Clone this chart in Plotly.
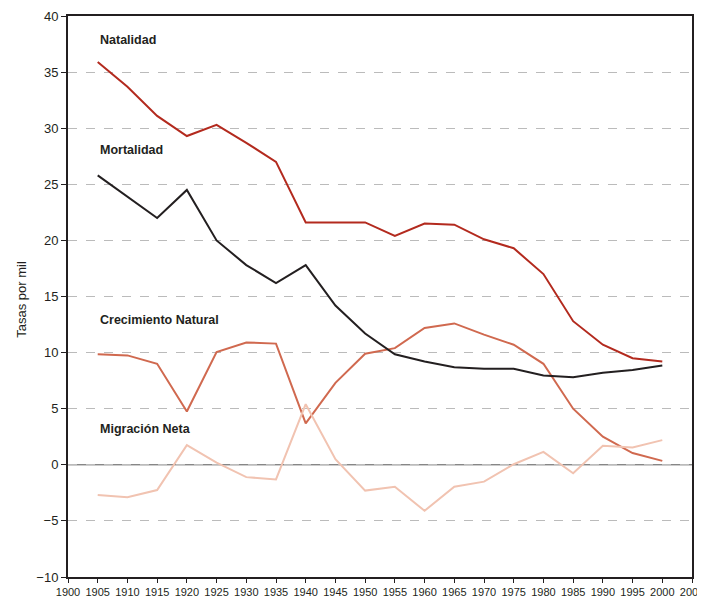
import plotly.graph_objects as go

years = [1905, 1910, 1915, 1920, 1925, 1930, 1935, 1940, 1945, 1950,
         1955, 1960, 1965, 1970, 1975, 1980, 1985, 1990, 1995, 2000]

natalidad = [35.9, 33.7, 31.1, 29.3, 30.3, 28.7, 27.0, 21.6, 21.6, 21.6,
             20.4, 21.5, 21.4, 20.1, 19.3, 17.0, 12.8, 10.7, 9.5, 9.2]
mortalidad = [25.8, 23.9, 22.0, 24.5, 20.0, 17.8, 16.2, 17.8, 14.2, 11.7,
              9.85, 9.2, 8.7, 8.55, 8.55, 7.95, 7.8, 8.2, 8.45, 8.85]
crecimiento = [9.85, 9.75, 9.0, 4.75, 10.05, 10.9, 10.8, 3.7, 7.3, 9.9,
               10.4, 12.2, 12.6, 11.6, 10.7, 9.0, 5.0, 2.5, 1.05, 0.35]
migracion = [-2.7, -2.9, -2.25, 1.75, 0.2, -1.1, -1.3, 5.4, 0.5, -2.3,
             -1.95, -4.1, -1.95, -1.5, 0.05, 1.15, -0.75, 1.7, 1.55, 2.2]

x_ticks = list(range(1900, 2006, 5))
y_ticks = list(range(-10, 41, 5))

series = [
    ("Crecimiento Natural", crecimiento, "#D0694F"),
    ("Migración Neta", migracion, "#F1C3B1"),
    ("Mortalidad", mortalidad, "#231F20"),
    ("Natalidad", natalidad, "#B32A1E"),
]

labels = [("Natalidad", 37.9), ("Mortalidad", 28.1),
          ("Crecimiento Natural", 12.9), ("Migración Neta", 3.2)]

fig = go.Figure()

# zero reference line
fig.add_shape(type="line", xref="paper", x0=0, x1=1, y0=0, y1=0,
              line=dict(color="#555555", width=1), layer="below")

for name, vals, color in series:
    fig.add_trace(go.Scatter(
        x=years, y=vals, mode="lines", name=name,
        line=dict(color=color, width=2),
    ))

for text, yv in labels:
    fig.add_annotation(
        x=1905, y=yv, text=f"<b>{text}</b>", showarrow=False,
        xanchor="left", yanchor="middle",
        font=dict(family="Liberation Sans, Arial", size=12.5, color="#231F20"),
    )

fig.add_annotation(
    xref="paper", yref="paper", x=0, y=0.495, xshift=-56,
    text="Tasas por mil", textangle=-90, showarrow=False,
    font=dict(family="Liberation Sans, Arial", size=13, color="#231F20"),
)

# page body adds an 8px offset, so the figure is 8px smaller and margins shifted
fig.update_layout(
    width=697, height=590,
    margin=dict(l=60, r=13, t=8, b=21),
    plot_bgcolor="white", paper_bgcolor="white",
    showlegend=False,
    font=dict(family="Liberation Sans, Arial", size=11, color="#231F20"),
    xaxis=dict(
        range=[1900, 2005], tickvals=x_ticks, ticks="outside", ticklen=4,
        tickcolor="#231F20", showgrid=False, zeroline=False,
        showline=True, linecolor="#231F20", linewidth=2, mirror=True,
        automargin=False, tickfont=dict(size=11),
    ),
    yaxis=dict(
        range=[-10, 40], tickvals=y_ticks, ticks="outside", ticklen=5,
        tickcolor="#231F20", showgrid=True, gridcolor="#BBBBBB",
        griddash="dash", gridwidth=1, zeroline=False,
        showline=True, linecolor="#231F20", linewidth=2, mirror=True,
        automargin=False, tickfont=dict(size=13),
    ),
)

fig.write_html("out.html")
